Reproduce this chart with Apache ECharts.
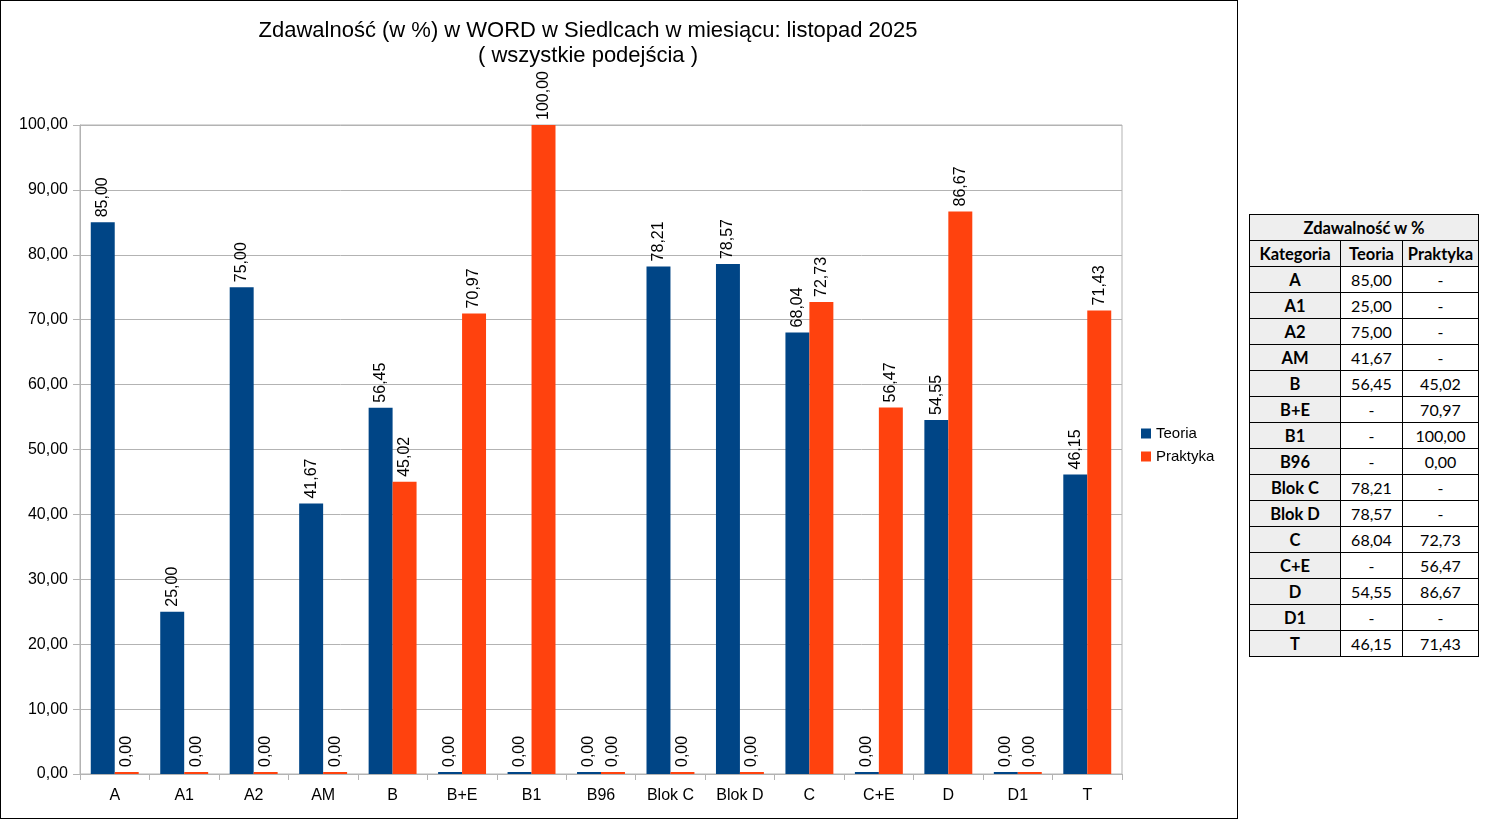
<!DOCTYPE html>
<html>
<head>
<meta charset="utf-8">
<script src="https://cdn.jsdelivr.net/npm/echarts@6/dist/echarts.min.js"></script>
<style>
  html, body { margin: 0; padding: 0; background: #fff; }
  #chart { position: absolute; left: 0; top: 0; width: 1238px; height: 819px; }
  #frame { position: absolute; left: 0; top: 0; width: 1238px; height: 819px; box-sizing: border-box; border: 1px solid #000; pointer-events: none; }
  #tbl { position: absolute; left: 1249px; top: 214px; border-collapse: collapse; font-family: Lato, "Open Sans", sans-serif; font-size: 16px; color: #000; table-layout: fixed; }
  #tbl td { border: 1px solid #000; height: 26px; padding: 0 2px; text-align: center; box-sizing: border-box; line-height: 24px; white-space: nowrap; overflow: hidden; }
  #tbl td.h { background: #eeeeee; font-weight: bold; font-size: 16.5px; }
</style>
</head>
<body>
<div id="chart"></div>
<div id="frame"></div>
<table id="tbl"></table>
<script>
const titleLine1 = 'Zdawalność (w %) w WORD w Siedlcach w miesiącu: listopad 2025';
const titleLine2 = '( wszystkie podejścia )';
const tableTitle = 'Zdawalność w %';
const tableHeaders = ['Kategoria', 'Teoria', 'Praktyka'];
const categories = ['A', 'A1', 'A2', 'AM', 'B', 'B+E', 'B1', 'B96', 'Blok C', 'Blok D', 'C', 'C+E', 'D', 'D1', 'T'];
// null = "-" in the table (drawn as 0 in the chart)
const teoria   = [85.00, 25.00, 75.00, 41.67, 56.45, null, null, null, 78.21, 78.57, 68.04, null, 54.55, null, 46.15];
const praktyka = [null, null, null, null, 45.02, 70.97, 100.00, 0.00, null, null, 72.73, 56.47, 86.67, null, 71.43];
const seriesNames = ['Teoria', 'Praktyka'];
const yTicks = { min: 0, max: 100, interval: 10 };

const fmt = v => (v == null ? '-' : v.toFixed(2).replace('.', ','));

// table
const tbl = document.getElementById('tbl');
let html = '<colgroup><col style="width:91px"><col style="width:62px"><col style="width:76px"></colgroup>';
html += '<tr><td class="h" colspan="3">' + tableTitle + '</td></tr>';
html += '<tr>' + tableHeaders.map(h => '<td class="h">' + h + '</td>').join('') + '</tr>';
categories.forEach((c, i) => {
  html += '<tr><td class="h">' + c + '</td><td>' + fmt(teoria[i]) + '</td><td>' + fmt(praktyka[i]) + '</td></tr>';
});
tbl.innerHTML = html;

const chart = echarts.init(document.getElementById('chart'), null, { renderer: 'canvas' });
const FONT = '"Liberation Sans", Arial, sans-serif';
const labelOpt = {
  show: true,
  position: 'top',
  rotate: 90,
  align: 'left',
  verticalAlign: 'middle',
  distance: 5,
  fontFamily: FONT,
  fontSize: 16,
  color: '#000',
  formatter: p => fmt(p.value)
};
chart.setOption({
  animation: false,
  backgroundColor: '#fff',
  graphic: [
    { type: 'text', x: 588, y: 20, style: { text: titleLine1, align: 'center', verticalAlign: 'top', font: '22px "Liberation Sans", Arial, sans-serif', fill: '#000' } },
    { type: 'text', x: 588, y: 45, style: { text: titleLine2, align: 'center', verticalAlign: 'top', font: '22px "Liberation Sans", Arial, sans-serif', fill: '#000' } }
  ],
  legend: {
    orient: 'vertical',
    left: 1136,
    top: 421,
    icon: 'rect',
    itemWidth: 10,
    itemHeight: 10,
    itemGap: 8,
    textStyle: { fontFamily: FONT, fontSize: 15, color: '#000' },
    data: seriesNames
  },
  grid: { left: 80, right: 116, top: 125, bottom: 45, containLabel: false, show: true, borderColor: '#b3b3b3', borderWidth: 1 },
  xAxis: {
    type: 'category',
    data: categories,
    axisLine: { lineStyle: { color: '#b3b3b3' } },
    axisTick: { show: true, length: 6, lineStyle: { color: '#b3b3b3' } },
    axisLabel: { fontFamily: FONT, fontSize: 16, color: '#000', margin: 14 }
  },
  yAxis: {
    type: 'value',
    min: yTicks.min,
    max: yTicks.max,
    interval: yTicks.interval,
    axisLine: { show: true, lineStyle: { color: '#b3b3b3' } },
    axisTick: { show: true, length: 7, lineStyle: { color: '#b3b3b3' } },
    splitLine: { lineStyle: { color: '#b3b3b3' } },
    axisLabel: { fontFamily: FONT, fontSize: 16, color: '#000', margin: 12, formatter: v => v.toFixed(2).replace('.', ',') }
  },
  series: [
    { name: seriesNames[0], type: 'bar', data: teoria.map(v => v == null ? 0 : v), itemStyle: { color: '#004586' }, barGap: '0%', barCategoryGap: '31%', barMinHeight: 2, label: labelOpt },
    { name: seriesNames[1], type: 'bar', data: praktyka.map(v => v == null ? 0 : v), itemStyle: { color: '#ff420e' }, barGap: '0%', barCategoryGap: '31%', barMinHeight: 2, label: labelOpt }
  ]
});
</script>
</body>
</html>
